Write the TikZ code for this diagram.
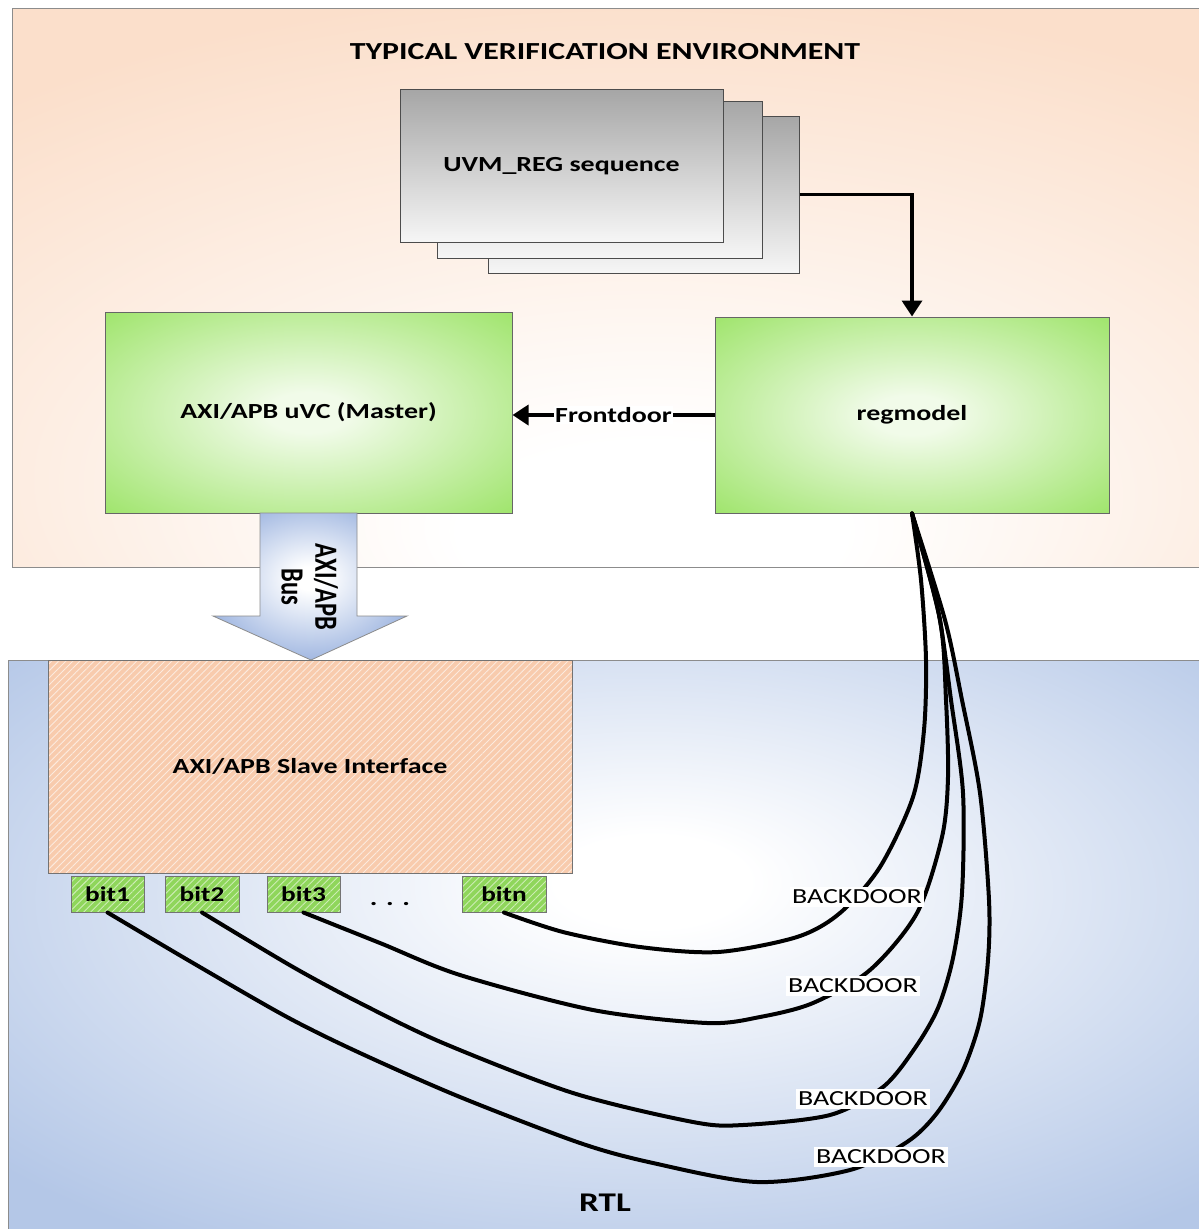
\documentclass[tikz,border=0pt]{standalone}
\usepackage{fontspec}
\setmainfont{Carlito}[FakeStretch=1.3]
\usetikzlibrary{arrows.meta,patterns.meta,calc}

\definecolor{peachouter}{HTML}{FBDFCB}
\definecolor{blueouter}{HTML}{B4C7E7}
\definecolor{greenouter}{HTML}{9EE46A}
\definecolor{greeninner}{HTML}{F1FBE9}
\definecolor{slavepeach}{HTML}{F8CBAD}
\definecolor{bitgreen}{HTML}{8FD65B}
\definecolor{busblue}{HTML}{8EA9DB}
\definecolor{edgegray}{HTML}{8C8C8C}
\definecolor{seqtop}{HTML}{A6A6A6}
\definecolor{seqbottom}{HTML}{F6F6F6}

% soft glows used as backgrounds
\pgfdeclareradialshading{envglow}{\pgfpoint{2bp}{-24bp}}{color(0bp)=(white); color(8bp)=(white); color(40bp)=(peachouter); color(90bp)=(peachouter)}
\pgfdeclareradialshading{rtlglow}{\pgfpoint{2bp}{6bp}}{color(0bp)=(white); color(4bp)=(white); color(35bp)=(blueouter); color(90bp)=(blueouter)}
\pgfdeclareradialshading{greenglow}{\pgfpoint{0bp}{0bp}}{color(0bp)=(greeninner); color(5bp)=(greeninner); color(36bp)=(greenouter); color(80bp)=(greenouter)}
\pgfdeclareradialshading{busglow}{\pgfpoint{0bp}{3bp}}{color(0bp)=(white); color(4bp)=(white); color(32bp)=(busblue); color(80bp)=(busblue)}

\tikzset{
  panel/.style={draw=edgegray, line width=1pt, inner sep=0pt},
  gbox/.style={draw=black!60, line width=1pt, shade, shading=greenglow,
    font=\fontsize{21.5}{25}\selectfont\bfseries},
  seqbox/.style={draw=black!70, line width=1pt, top color=seqtop, bottom color=seqbottom,
    inner sep=0pt},
  hatchbox/.style={draw=black!55, line width=1pt,
    pattern={Lines[angle=45,distance=5pt,line width=0.9pt]}},
  bitbox/.style={hatchbox, preaction={fill=bitgreen}, pattern color=bitgreen!45!white,
    minimum height=36pt, inner sep=0pt, font=\fontsize{21}{24}\selectfont\bfseries},
  conn/.style={line width=3.5pt, -{Triangle[length=16pt,width=20pt]}},
  bd/.style={line width=4pt, line cap=round, line join=round},
  bdl/.style={fill=white, inner xsep=2pt, inner ysep=3pt, font=\fontsize{21.5}{25}\selectfont},
  lbl/.style={font=\fontsize{21.5}{25}\selectfont\bfseries},
  buslbl/.style={rotate=-90, inner sep=0pt, font=\fontsize{24.5}{28}\selectfont\bfseries},
}
% rotated bus text: narrower along the line, taller across it
\newcommand{\bustext}[1]{\scalebox{0.77}[1.32]{#1}}

\begin{document}
\begin{tikzpicture}[x=1pt, y=-1pt]
\useasboundingbox (0,0) rectangle (1199,1229);

% the two environment panels
\node[panel, shade, shading=envglow, minimum width=1193pt, minimum height=559pt] (env) at (608.5,287.5) {};
\node[panel, shade, shading=rtlglow, minimum width=1197pt, minimum height=575pt] (rtl) at (606.5,947.5) {};

\node[font=\fontsize{24.5}{28}\selectfont\bfseries] (title) at (605,52) {TYPICAL VERIFICATION ENVIRONMENT};
\node[font=\fontsize{27}{30}\selectfont\bfseries] (rtltitle) at (605,1203) {RTL};

% stacked sequence boxes
\node[seqbox, minimum width=311pt, minimum height=157pt] (seq3) at (643.5,194.5) {};
\node[seqbox, minimum width=325pt, minimum height=157pt] (seq2) at (599.5,179.5) {};
\node[seqbox, minimum width=323pt, minimum height=153pt, lbl] (seq1) at (561.5,166) {UVM\_REG sequence};

% agent and register model
\node[gbox, minimum width=407pt, minimum height=201pt] (uvc) at (308.5,412.5) {AXI/APB uVC (Master)};
\node[gbox, minimum width=394pt, minimum height=196pt] (reg) at (912,415) {regmodel};

\draw[conn] (seq3.east) -| (reg.north);
\draw[conn] (reg.west) -- (reg.west -| uvc.east)
  node[midway, fill=white, inner sep=1pt, lbl] (fdl) {Frontdoor};

% bus block arrow
\shade[shading=busglow, draw=black!45, line width=0.8pt]
  (260,513) -- (357,513) -- (357,616) -- (407,616) -- (311,660) -- (213,616) -- (260,616) -- cycle;
\node[buslbl] (busa) at (326,587) {\bustext{AXI/APB}};
\node[buslbl] (busb) at (292,587) {\bustext{Bus}};

% slave interface and its register bits
\node[hatchbox, preaction={fill=slavepeach}, pattern color=slavepeach!40!white,
  minimum width=524pt, minimum height=213pt, lbl] (slave) at (310,766.5) {AXI/APB Slave Interface};
\node[bitbox, minimum width=73pt] (bit1) at (107.5,894) {bit1};
\node[bitbox, minimum width=74pt] (bit2) at (202,894) {bit2};
\node[bitbox, minimum width=73pt] (bit3) at (303.5,894) {bit3};
\node[bitbox, minimum width=84pt] (bitn) at (504,894) {bitn};
\node[font=\fontsize{22}{24}\selectfont\bfseries] (dots) at (390,904) {. . .};

% backdoor paths from the register model to each bit
\draw[bd] plot[smooth, tension=0.5] coordinates {(bitn.south) (563,932) (640,947) (718,952) (797,937) (840,913) (880,867) (913,797) (924,730) (926,660) (921,580) (reg.south)};
\draw[bd] plot[smooth, tension=0.5] coordinates {(bit3.south) (380,943) (460,975) (593,1010) (707,1023) (760,1017) (813,1003) (870,970) (917,913) (942,837) (948,777) (946,700) (940,620) (reg.south)};
\draw[bd] plot[smooth, tension=0.5] coordinates {(bit2.south) (293,967) (360,1003) (443,1043) (573,1093) (693,1122) (743,1125) (830,1115) (883,1087) (915,1048) (938,1008) (953,958) (962,893) (963,793) (951,700) (938,610) (reg.south)};
\draw[bd] plot[smooth, tension=0.5] coordinates {(bit1.south) (193,963) (287,1017) (360,1053) (460,1097) (580,1143) (653,1163) (757,1182) (850,1170) (907,1142) (937,1113) (963,1070) (980,1020) (988,960) (989,900) (980,793) (962,700) (945,620) (reg.south)};

\node[bdl] (bd1) at (857,897) {BACKDOOR};
\node[bdl] (bd2) at (853,986) {BACKDOOR};
\node[bdl] (bd3) at (863,1099) {BACKDOOR};
\node[bdl] (bd4) at (881,1157) {BACKDOOR};
\end{tikzpicture}
\end{document}
